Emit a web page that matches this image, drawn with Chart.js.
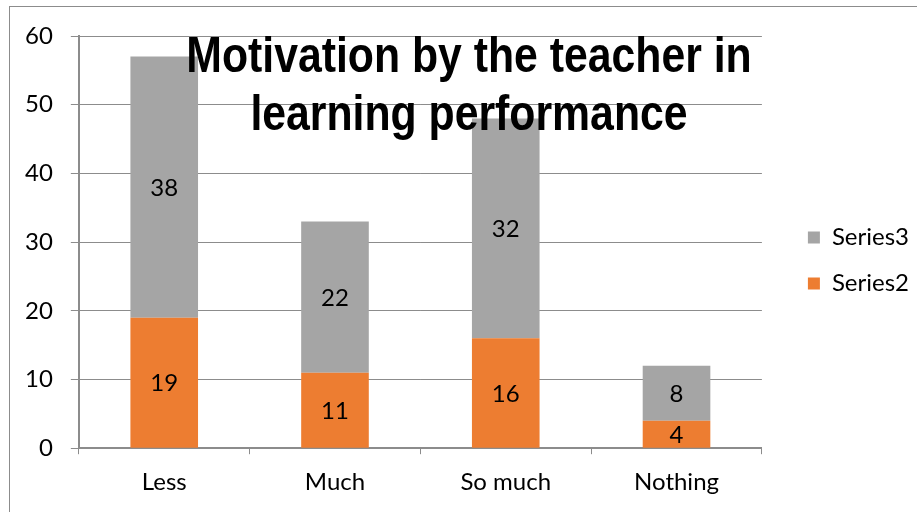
<!DOCTYPE html>
<html>
<head>
<meta charset="utf-8">
<script src="https://cdn.jsdelivr.net/npm/chart.js@4.4.1/dist/chart.umd.min.js"></script>
<style>
  html, body { margin: 0; padding: 0; background: #fff; }
  #frame { position: absolute; left: 9px; top: 6px; width: 1000px; height: 1000px;
           border-left: 1px solid #8c8c8c; border-top: 1px solid #8c8c8c; }
  #wrap { position: absolute; left: 0; top: 0; width: 917px; height: 512px; }
</style>
</head>
<body>
<div id="frame"></div>
<div id="wrap"><canvas id="myChart"></canvas></div>
<script>
// chart data
var categories = ['Less', 'Much', 'So much', 'Nothing'];
var series2 = [19, 11, 16, 4];
var series3 = [38, 22, 32, 8];
var titleLines = ['Motivation by the teacher in', 'learning performance'];

var tickFont = { family: 'Lato, "Open Sans", sans-serif', size: 24 };

// numbers in the middle of every bar segment
var segmentLabels = {
  id: 'segmentLabels',
  afterDatasetsDraw(chart) {
    var ctx = chart.ctx;
    ctx.save();
    ctx.font = '24px Lato, "Open Sans", sans-serif';
    ctx.fillStyle = '#000';
    ctx.textAlign = 'center';
    ctx.textBaseline = 'middle';
    chart.data.datasets.forEach((ds, i) => {
      chart.getDatasetMeta(i).data.forEach((bar, j) => {
        var p = bar.getProps(['x', 'y', 'base'], true);
        ctx.fillText(ds.data[j], p.x, (p.y + p.base) / 2 + 1);
      });
    });
    ctx.restore();
  }
};

// title sits on top of the plot, like in the original sheet
// (no narrow font here, so squeeze a bold sans horizontally)
var overTitle = {
  id: 'overTitle',
  afterDraw(chart) {
    var ctx = chart.ctx;
    ctx.save();
    ctx.font = 'bold 50px "Liberation Sans", Arial, sans-serif';
    ctx.fillStyle = '#000';
    ctx.textAlign = 'center';
    ctx.textBaseline = 'alphabetic';
    ctx.translate(469, 0);
    ctx.scale(0.855, 1);
    ctx.fillText(titleLines[0], 0, 72);
    ctx.fillText(titleLines[1], 0, 130);
    ctx.restore();
  }
};

// legend sits a bit further out from the plot than chart.js puts it
var legendNudge = {
  id: 'legendNudge',
  afterLayout(chart) {
    var lg = chart.legend;
    lg.left += 24; lg.right += 24;
    lg.top -= 13; lg.bottom -= 13;
  }
};

const variable = document.getElementById('myChart');
const myChartBar = new Chart(variable, {
  type: 'bar',
  data: {
    labels: categories,
    datasets: [{
      label: 'Series2',
      data: series2,
      backgroundColor: '#ED7D31'
    }, {
      label: 'Series3',
      data: series3,
      backgroundColor: '#A5A5A5'
    }]
  },
  options: {
    responsive: true,
    maintainAspectRatio: false,
    animation: false,
    datasets: { bar: { barPercentage: 0.6, categoryPercentage: 0.66 } },
    layout: { padding: { left: 7, top: 36, right: 22, bottom: 1 } },
    plugins: {
      title: { display: false },
      tooltip: { enabled: false },
      legend: {
        position: 'right',
        reverse: true,
        labels: {
          boxWidth: 12,
          boxHeight: 12,
          padding: 22,
          color: '#000',
          font: tickFont
        }
      }
    },
    scales: {
      x: {
        stacked: true,
        grid: { display: true, drawOnChartArea: false, drawTicks: true, tickLength: 6, color: '#8c8c8c' },
        border: { color: '#8c8c8c', width: 2 },
        ticks: { color: '#000', font: tickFont, padding: 14 }
      },
      y: {
        stacked: true,
        min: 0,
        max: 60,
        grid: { color: '#8c8c8c', tickLength: 8 },
        border: { color: '#8c8c8c', width: 2 },
        ticks: { stepSize: 10, color: '#000', font: tickFont, padding: 18 }
      }
    }
  },
  plugins: [segmentLabels, overTitle, legendNudge]
});
</script>
</body>
</html>
